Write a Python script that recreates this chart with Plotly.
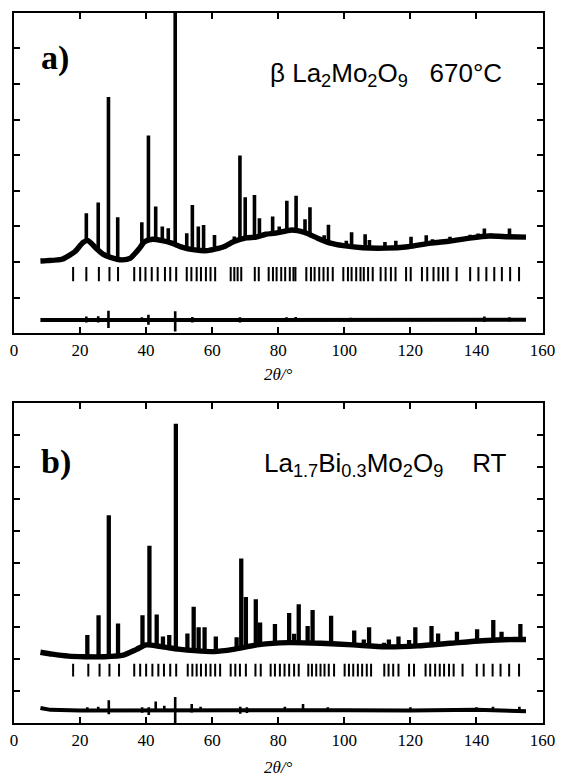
import plotly.graph_objects as go

# ---------------- panel a: beta-La2Mo2O9 at 670 C ----------------
bg_a_x = [8, 10, 14.5, 18.4, 20.9, 22.4, 24.8, 26.8, 29.2, 32.7, 35.1, 38.0, 39.5, 41.9,
          44.9, 47.8, 50.8, 54.7, 58.6, 63.5, 66.4, 70.3, 73.3, 76.2, 79.1, 84.1, 88.0,
          91.9, 95.8, 99.7, 105.6, 112.4, 119.3, 126.1, 132.0, 137.9, 143.8, 149.6, 155.0]
bg_a_y = [2.03, 2.04, 2.08, 2.29, 2.55, 2.60, 2.39, 2.23, 2.13, 2.06, 2.10, 2.39, 2.57, 2.64,
          2.60, 2.53, 2.42, 2.34, 2.32, 2.43, 2.57, 2.68, 2.70, 2.78, 2.81, 2.90, 2.83,
          2.67, 2.53, 2.46, 2.40, 2.39, 2.43, 2.53, 2.59, 2.67, 2.73, 2.71, 2.70]

peak_a_pos = [21.9, 25.5, 28.6, 31.4, 38.7, 40.7, 42.9, 44.9, 46.7, 48.8, 52.3, 54.0, 55.8,
              57.4, 60.7, 66.7, 68.4, 70.0, 72.8, 74.3, 78.3, 80.3, 82.6, 85.4, 88.1, 89.6,
              93.9, 95.2, 100.6, 102.2, 106.3, 107.6, 112.3, 115.6, 120.2, 124.8, 126.7,
              132.0, 138.1, 140.5, 142.4, 144.5, 146.6, 150.0]
peak_a_top = [3.37, 3.67, 6.63, 3.26, 3.12, 5.55, 3.56, 3.00, 2.95, 9.30, 2.81, 3.60, 3.00,
              3.04, 2.76, 2.72, 4.99, 3.82, 3.88, 3.23, 3.28, 3.00, 3.72, 3.86, 3.20, 3.54,
              2.75, 3.05, 2.60, 2.84, 2.78, 2.62, 2.56, 2.60, 2.71, 2.75, 2.64,
              2.71, 2.77, 2.80, 2.94, 2.80, 2.77, 2.94]
peak_a_foot = [2.60, 2.35, 2.17, 2.08, 2.45, 2.60, 2.64, 2.60, 2.55, 2.50, 2.40, 2.36, 2.34,
               2.33, 2.35, 2.55, 2.60, 2.66, 2.69, 2.71, 2.78, 2.82, 2.87, 2.89, 2.82, 2.76,
               2.58, 2.53, 2.45, 2.44, 2.41, 2.40, 2.39, 2.40, 2.43, 2.50, 2.53,
               2.59, 2.66, 2.68, 2.70, 2.72, 2.72, 2.71]

bragg_a = [17.9, 21.9, 25.7, 28.9, 31.5, 36.4, 38.2, 39.8, 41.7, 43.5, 45.7, 47.3, 49.1,
           52.3, 53.7, 55.3, 56.6, 58.1, 59.5, 60.9, 65.6, 66.7, 67.7, 68.8, 72.9, 74.1,
           77.1, 78.4, 79.5, 80.9, 82.1, 83.5, 84.6, 85.2, 88.5, 89.9, 91.0, 92.4, 93.7,
           95.0, 96.5, 99.7, 101.1, 102.2, 103.6, 104.9, 105.9, 107.2, 108.6, 111.0, 112.5,
           114.1, 115.5, 118.7, 120.1, 123.5, 125.1, 127.0, 128.5, 129.9, 131.3, 134.0,
           138.1, 140.6, 143.0, 145.4, 147.7, 150.2, 152.9]

diff_a_x = [8, 20, 40, 60, 80, 100, 120, 140, 155]
diff_a_y = [0.37, 0.37, 0.36, 0.37, 0.38, 0.37, 0.37, 0.38, 0.38]
dspike_a_pos = [21.9, 25.5, 28.6, 38.7, 40.7, 48.8, 54.0, 68.4, 82.5, 85.3, 102.0, 142.4, 150.0]
dspike_a_hi = [0.47, 0.48, 0.63, 0.45, 0.52, 0.62, 0.46, 0.45, 0.45, 0.46, 0.44, 0.47, 0.45]
dspike_a_lo = [0.30, 0.30, 0.15, 0.32, 0.24, 0.05, 0.30, 0.30, 0.33, 0.33, 0.33, 0.32, 0.33]

# ---------------- panel b: La1.7Bi0.3Mo2O9 at room temperature ----------------
bg_b_x = [8, 11.6, 16.5, 21.4, 27.3, 33.1, 37.1, 40.0, 44.9, 49.8, 54.7, 60.6, 66.4, 74.2,
          83.1, 92.9, 102.6, 112.4, 122.2, 132.0, 141.8, 151.6, 155.0]
bg_b_y = [2.22, 2.16, 2.10, 2.08, 2.08, 2.13, 2.31, 2.45, 2.39, 2.32, 2.27, 2.24, 2.31, 2.46,
          2.52, 2.50, 2.45, 2.39, 2.42, 2.50, 2.58, 2.62, 2.62]

peak_b_pos = [22.2, 25.6, 28.7, 31.5, 38.9, 41.0, 43.2, 45.1, 47.0, 49.0, 52.5, 54.4, 55.9,
              57.7, 61.1, 67.4, 68.8, 70.2, 73.2, 74.5, 79.0, 83.3, 84.8, 86.2, 88.9, 90.4,
              96.0, 103.0, 105.9, 107.5, 112.0, 113.5, 116.4, 119.6, 121.5, 126.4, 128.4,
              134.1, 140.2, 145.1, 147.6, 153.3]
peak_b_top = [2.76, 3.38, 6.50, 3.12, 3.38, 5.55, 3.40, 2.71, 2.76, 9.36, 2.81, 3.64, 3.00,
              3.00, 2.71, 2.69, 5.15, 3.95, 3.88, 3.15, 3.10, 3.45, 2.80, 3.72, 3.04, 3.54,
              3.36, 2.90, 2.62, 3.00, 2.52, 2.62, 2.71, 2.60, 3.00, 3.04, 2.81,
              2.86, 2.94, 3.23, 2.86, 3.10]
peak_b_foot = [2.08, 2.08, 2.08, 2.10, 2.35, 2.45, 2.42, 2.39, 2.36, 2.33, 2.29, 2.27, 2.26,
               2.25, 2.24, 2.32, 2.35, 2.38, 2.43, 2.45, 2.49, 2.52, 2.52, 2.52, 2.51, 2.51,
               2.48, 2.45, 2.43, 2.42, 2.39, 2.39, 2.40, 2.41, 2.42, 2.45, 2.47,
               2.51, 2.57, 2.59, 2.60, 2.62]

bragg_b = [17.9, 22.5, 25.9, 28.9, 31.8, 36.4, 38.2, 40.0, 41.9, 43.7, 45.4, 47.3, 49.1,
           52.6, 54.0, 55.3, 56.6, 58.1, 59.5, 60.9, 62.4, 65.6, 67.0, 68.4, 70.2, 73.1,
           74.7, 77.7, 79.0, 80.5, 81.9, 83.3, 84.8, 86.2, 89.1, 90.2, 91.5, 92.8, 94.0,
           95.3, 96.9, 100.1, 101.4, 102.7, 104.1, 105.4, 106.8, 108.1, 112.1, 113.4,
           114.8, 116.4, 119.6, 121.1, 124.6, 126.0, 127.5, 128.9, 130.2, 131.7, 133.1,
           135.8, 140.1, 142.2, 144.9, 147.3, 149.9, 152.9]

diff_b_x = [8, 11, 20, 40, 60, 80, 100, 120, 140, 155]
diff_b_y = [0.48, 0.42, 0.40, 0.41, 0.40, 0.42, 0.41, 0.40, 0.42, 0.38]
dspike_b_pos = [22.2, 25.5, 28.7, 38.8, 40.8, 42.9, 45.5, 48.8, 53.8, 56.5, 68.5, 70.5,
                82.0, 87.5, 95.0, 120.0, 140.0, 145.0, 153.0]
dspike_b_hi = [0.50, 0.52, 0.72, 0.50, 0.50, 0.68, 0.55, 0.82, 0.60, 0.52, 0.52, 0.50,
               0.52, 0.60, 0.50, 0.50, 0.50, 0.52, 0.52]
dspike_b_lo = [0.36, 0.35, 0.28, 0.33, 0.26, 0.36, 0.36, 0.00, 0.34, 0.35, 0.30, 0.32,
               0.36, 0.36, 0.36, 0.36, 0.36, 0.35, 0.32]

x_ticks = [0, 20, 40, 60, 80, 100, 120, 140, 160]

# level of the reflection-marker row (data units)
BRAGG_LO, BRAGG_HI = 1.46, 1.86

SERIF = "Liberation Serif, Times New Roman, serif"
SANS = "Liberation Sans, Arial, sans-serif"
INK = "black"


def segments(xs, lo, hi):
    """Vertical segments x=[p,p,None], y=[lo,hi,None]."""
    sx, sy = [], []
    for i, p in enumerate(xs):
        l = lo[i] if isinstance(lo, list) else lo
        h = hi[i] if isinstance(hi, list) else hi
        sx += [p, p, None]
        sy += [l, h, None]
    return sx, sy


fig = go.Figure()


def add_panel(xa, ya, bgx, bgy, ppos, ptop, pfoot, bragg, dx, dy, spos, shi, slo, pw):
    ax = dict(xaxis=xa, yaxis=ya)
    # difference curve
    fig.add_trace(go.Scatter(x=dx, y=dy, mode="lines", line=dict(color=INK, width=4),
                             hoverinfo="skip", **ax))
    sx, sy = segments(spos, slo, shi)
    fig.add_trace(go.Scatter(x=sx, y=sy, mode="lines", line=dict(color=INK, width=2.6),
                             hoverinfo="skip", **ax))
    # reflection markers
    bx, by = segments(bragg, BRAGG_LO, BRAGG_HI)
    fig.add_trace(go.Scatter(x=bx, y=by, mode="lines", line=dict(color=INK, width=2),
                             hoverinfo="skip", **ax))
    # observed / calculated profile: background plus peaks
    fig.add_trace(go.Scatter(x=bgx, y=bgy, mode="lines",
                             line=dict(color=INK, width=5.4, shape="spline", smoothing=0.6),
                             hoverinfo="skip", **ax))
    px, py = segments(ppos, pfoot, ptop)
    fig.add_trace(go.Scatter(x=px, y=py, mode="lines", line=dict(color=INK, width=pw),
                             hoverinfo="skip", **ax))


add_panel("x", "y", bg_a_x, bg_a_y, peak_a_pos, peak_a_top, peak_a_foot, bragg_a,
          diff_a_x, diff_a_y, dspike_a_pos, dspike_a_hi, dspike_a_lo, 3.6)
add_panel("x2", "y2", bg_b_x, bg_b_y, peak_b_pos, peak_b_top, peak_b_foot, bragg_b,
          diff_b_x, diff_b_y, dspike_b_pos, dspike_b_hi, dspike_b_lo, 4.3)

W, H = 572, 780
xdom = [10.3 / W, 555 / W]

xcommon = dict(range=[0, 160], tickvals=x_ticks, ticks="inside", ticklen=6, tickwidth=1.5,
               tickcolor=INK, showline=True, linecolor=INK, linewidth=2, mirror="ticks",
               showgrid=False, zeroline=False, domain=xdom,
               tickfont=dict(family=SERIF, size=17, color=INK))
ycommon = dict(ticks="inside", ticklen=6, tickwidth=1.5, tickcolor=INK, showline=True,
               linecolor=INK, linewidth=2, mirror="ticks", showgrid=False, zeroline=False,
               showticklabels=False)

fig.update_layout(
    width=W, height=H, margin=dict(l=0, r=0, t=0, b=0),
    paper_bgcolor="white", plot_bgcolor="white", showlegend=False,
    xaxis=dict(**xcommon, anchor="y"),
    yaxis=dict(**ycommon, range=[0, 9], tickvals=list(range(1, 9)),
               domain=[1 - 333.3 / H, 1 - 12.7 / H], anchor="x"),
    xaxis2=dict(**xcommon, anchor="y2"),
    yaxis2=dict(**ycommon, range=[0, 10], tickvals=list(range(1, 10)),
                domain=[1 - 723.3 / H, 1 - 403.3 / H], anchor="x2"),
)


def note(text, x_px, y_px, size, family, xanchor="left", bold=False):
    fig.add_annotation(text=f"<b>{text}</b>" if bold else text, xref="paper", yref="paper",
                       x=x_px / W, y=1 - y_px / H, xanchor=xanchor, yanchor="middle",
                       showarrow=False, font=dict(family=family, size=size, color=INK))


note("a)", 36, 58, 34, SERIF, bold=True)
note("b)", 36, 462, 34, SERIF, bold=True)
note("β La<sub>2</sub>Mo<sub>2</sub>O<sub>9</sub>\u00a0\u00a0\u00a0670°C", 272, 74, 26, SANS)
note("La<sub>1.7</sub>Bi<sub>0.3</sub>Mo<sub>2</sub>O<sub>9</sub>\u00a0\u00a0\u00a0\u00a0RT", 266, 464, 26, SANS)
note("<i>2θ/°</i>", 283, 374, 17, SERIF, xanchor="center")
note("<i>2θ/°</i>", 283, 767, 17, SERIF, xanchor="center")

fig.write_html("out.html")
